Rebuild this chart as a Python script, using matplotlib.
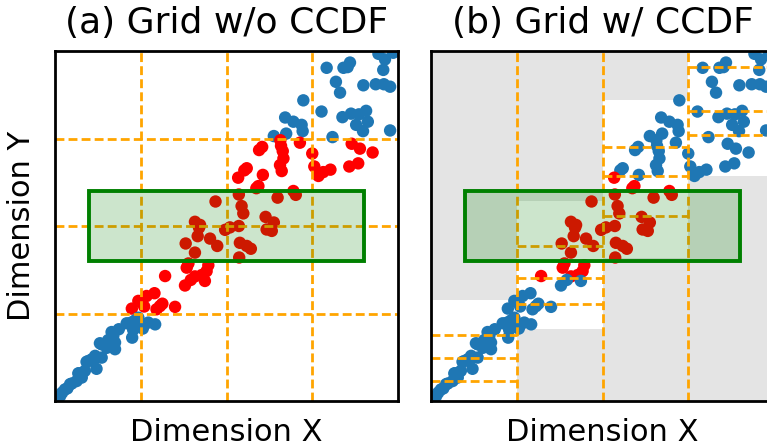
import matplotlib
matplotlib.use("Agg")
import matplotlib.pyplot as plt
from matplotlib.patches import Rectangle

# ---------------- data ----------------
x_vals = [
    0.943, 0.962, 0.986, 0.792, 0.841, 0.853, 0.860, 0.957, 0.819, 0.831,
    0.899, 0.935, 0.959, 0.977, 0.724, 0.777, 0.671, 0.695, 0.719, 0.722,
    0.838, 0.863, 0.886, 0.907, 0.912, 0.878, 0.898, 0.977, 0.638, 0.674,
    0.809,
    0.657, 0.659, 0.595, 0.604, 0.664, 0.714, 0.666, 0.656, 0.661, 0.750,
    0.756, 0.865, 0.889, 0.926, 0.858, 0.884, 0.768, 0.782, 0.803, 0.559,
    0.552, 0.534, 0.606, 0.593, 0.587, 0.695, 0.702, 0.536, 0.649, 0.468,
    0.544, 0.549, 0.614, 0.638, 0.408, 0.423, 0.536, 0.420, 0.416, 0.452,
    0.473, 0.381, 0.408, 0.496, 0.510, 0.539, 0.559, 0.571, 0.537, 0.617,
    0.632,
    0.389, 0.384, 0.447, 0.442, 0.428, 0.408, 0.396, 0.437, 0.379, 0.321,
    0.290, 0.267, 0.243, 0.260, 0.224, 0.306, 0.313, 0.296, 0.350,
    0.222, 0.233, 0.243, 0.209, 0.251, 0.256, 0.272, 0.292, 0.228, 0.225,
    0.165, 0.170, 0.160, 0.175, 0.136, 0.151, 0.175, 0.136, 0.117, 0.097,
    0.107, 0.121, 0.087, 0.070, 0.078, 0.063, 0.044, 0.029, 0.021, 0.015,
    0.005, 0.155, 0.131, 0.112, 0.092, 0.068, 0.049, 0.036, 0.010, 0.186,
]
y_vals = [
    0.992, 0.976, 0.995, 0.952, 0.952, 0.954, 0.967, 0.946, 0.912, 0.881,
    0.902, 0.905, 0.905, 0.898, 0.859, 0.827, 0.810, 0.798, 0.789, 0.771,
    0.811, 0.821, 0.819, 0.829, 0.798, 0.789, 0.771, 0.773, 0.757, 0.764,
    0.754,
    0.745, 0.729, 0.717, 0.726, 0.714, 0.738, 0.693, 0.674, 0.657, 0.707,
    0.670, 0.735, 0.721, 0.710, 0.670, 0.679, 0.643, 0.654, 0.661, 0.665,
    0.659, 0.638, 0.646, 0.614, 0.608, 0.600, 0.589, 0.590, 0.581, 0.570,
    0.557, 0.536, 0.526, 0.510, 0.512, 0.503, 0.500, 0.495, 0.471, 0.464,
    0.443, 0.450, 0.424, 0.489, 0.496, 0.452, 0.443, 0.435, 0.410, 0.490,
    0.486,
    0.393, 0.381, 0.388, 0.371, 0.360, 0.356, 0.346, 0.343, 0.330, 0.357,
    0.308, 0.300, 0.286, 0.270, 0.264, 0.271, 0.278, 0.262, 0.269,
    0.224, 0.230, 0.238, 0.222, 0.214, 0.207, 0.224, 0.219, 0.203, 0.181,
    0.197, 0.186, 0.174, 0.167, 0.162, 0.152, 0.148, 0.124, 0.129, 0.114,
    0.119, 0.092, 0.086, 0.079, 0.067, 0.057, 0.048, 0.033, 0.024, 0.014,
    0.007, 0.174, 0.165, 0.117, 0.112, 0.079, 0.050, 0.036, 0.012, 0.205,
]

grid_edges = [0.0, 0.25, 0.5, 0.75, 1.0]          # uniform grid (both axes)
query_box = [0.1, 0.9, 0.4, 0.6]                   # x0, x1, y0, y1
# per-column CCDF cell edges (first/last = extent of data in the column)
ccdf_edges = [
    [0.0, 0.057, 0.124, 0.189, 0.288],
    [0.207, 0.276, 0.352, 0.442, 0.571],
    [0.410, 0.529, 0.642, 0.727, 0.860],
    [0.643, 0.761, 0.829, 0.953, 1.0],
]

titles = ["(a) Grid w/o CCDF", "(b) Grid w/ CCDF"]
xlabel = "Dimension X"
ylabel = "Dimension Y"

BLUE = "#1f77b4"
RED = "red"
ORANGE = "orange"
GRAY = "#e4e4e4"


def col_index(x):
    for i in range(len(grid_edges) - 1):
        if x < grid_edges[i + 1]:
            return i
    return len(grid_edges) - 2


def overlaps(lo, hi, qlo, qhi):
    return lo < qhi and hi > qlo


def in_cell_hit(y, edges):
    for i in range(len(edges) - 1):
        if edges[i] <= y <= edges[i + 1]:
            if overlaps(edges[i], edges[i + 1], query_box[2], query_box[3]):
                return True
    return False


colors_a, colors_b = [], []
for x, y in zip(x_vals, y_vals):
    c = col_index(x)
    hit_col = overlaps(grid_edges[c], grid_edges[c + 1], query_box[0], query_box[1])
    colors_a.append(RED if hit_col and in_cell_hit(y, grid_edges) else BLUE)
    colors_b.append(RED if hit_col and in_cell_hit(y, ccdf_edges[c]) else BLUE)

# ---------------- figure ----------------
fig = plt.figure(figsize=(7.67, 4.46), dpi=100)
ax_a = fig.add_axes([55 / 767, 45 / 446, 343 / 767, 350 / 446])
ax_b = fig.add_axes([431 / 767, 45 / 446, 343 / 767, 350 / 446])

dash = dict(color=ORANGE, linestyle="--", linewidth=2.0, dashes=(3.2, 1.5), zorder=3)

for ax, cols, title in [(ax_a, colors_a, titles[0]), (ax_b, colors_b, titles[1])]:
    ax.set_xlim(0, 1)
    ax.set_ylim(0, 1)
    ax.set_xticks([])
    ax.set_yticks([])
    for sp in ax.spines.values():
        sp.set_linewidth(2.0)
        sp.set_zorder(6)
    ax.scatter(x_vals, y_vals, c=cols, s=80, linewidths=0, zorder=2)
    for gx in grid_edges[1:-1]:
        ax.axvline(gx, **dash)
    ax.add_patch(Rectangle((query_box[0], query_box[2]),
                           query_box[1] - query_box[0], query_box[3] - query_box[2],
                           facecolor=(0, 0.5, 0, 0.2), edgecolor="green",
                           linewidth=2.8, zorder=5))
    ax.set_title(title, fontsize=26, pad=13)
    ax.set_xlabel(xlabel, fontsize=22, labelpad=12)

ax_a.set_ylabel(ylabel, fontsize=22, labelpad=14)

# panel (a): uniform horizontal grid
for gy in grid_edges[1:-1]:
    ax_a.axhline(gy, **dash)

# panel (b): gray background, white column extents, CCDF splits
ax_b.set_facecolor(GRAY)
for c, edges in enumerate(ccdf_edges):
    x0, x1 = grid_edges[c], grid_edges[c + 1]
    ax_b.add_patch(Rectangle((x0, edges[0]), x1 - x0, edges[-1] - edges[0],
                             facecolor="white", edgecolor="none", zorder=0.5))
    for e in edges[1:-1]:
        ax_b.plot([x0, x1], [e, e], **dash)

fig.savefig("out.png", dpi=100)
